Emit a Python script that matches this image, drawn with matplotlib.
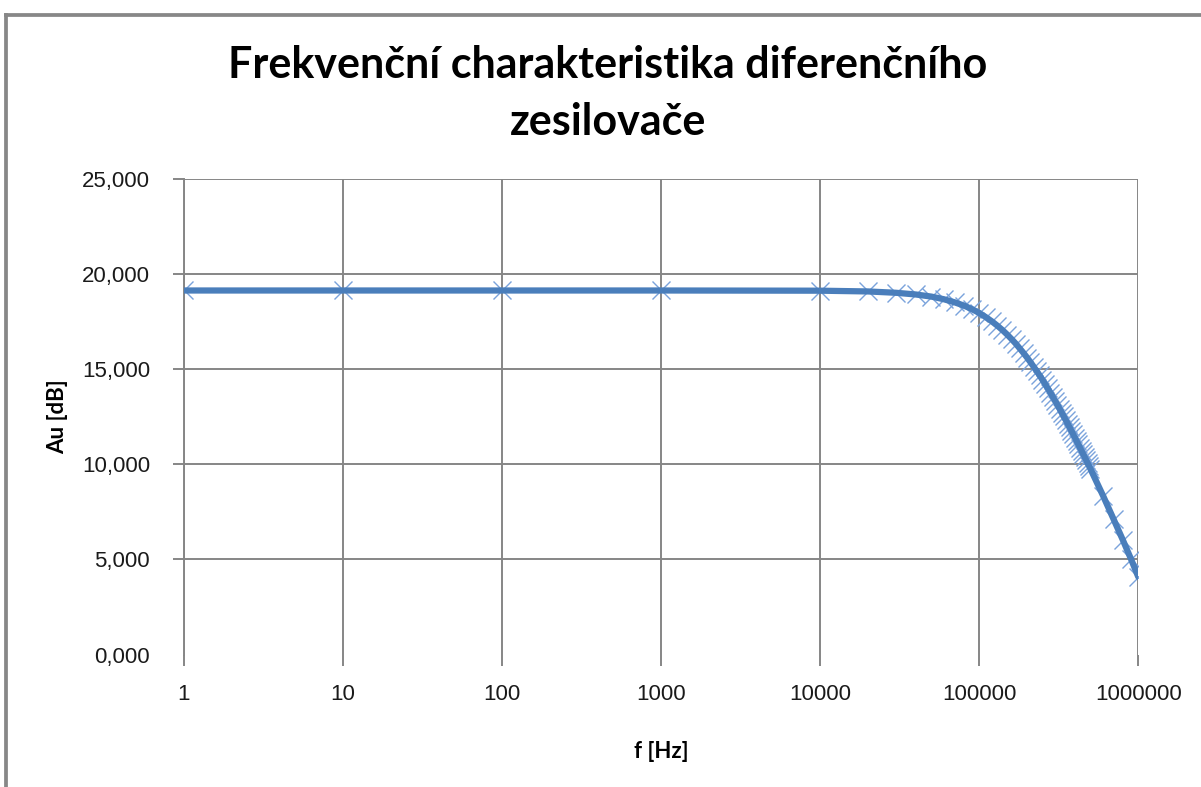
import numpy as np
import matplotlib.pyplot as plt
from matplotlib.lines import Line2D
from matplotlib.ticker import FuncFormatter, FixedLocator, NullLocator

# measured frequency response, f [Hz] vs Au [dB]
f_low = [1, 10, 100, 1000, 10000, 20000, 30000, 40000, 50000, 60000,
         70000, 80000, 90000]
au_low = [19.15, 19.15, 19.15, 19.15, 19.14, 19.10, 19.03, 18.94, 18.83,
          18.69, 18.53, 18.36, 18.17]

f_mid = [100000, 110000, 120000, 130000, 140000, 150000, 160000, 170000,
         180000, 190000, 200000, 210000, 220000, 230000, 240000, 250000,
         260000, 270000, 280000, 290000, 300000]
au_mid = [17.97, 17.75, 17.53, 17.30, 17.07, 16.83, 16.59, 16.35, 16.10,
          15.86, 15.62, 15.38, 15.14, 14.91, 14.68, 14.45, 14.22, 14.00,
          13.78, 13.56, 13.35]

f_high = [310000, 320000, 330000, 340000, 350000, 360000, 370000, 380000,
          390000, 400000, 410000, 420000, 430000, 440000, 450000, 460000,
          470000, 480000, 490000, 500000, 600000, 700000, 800000, 900000,
          1000000]
au_high = [13.14, 12.93, 12.73, 12.53, 12.33, 12.14, 11.95, 11.76, 11.58,
           11.40, 11.22, 11.05, 10.88, 10.71, 10.55, 10.39, 10.23, 10.07,
           9.92, 9.77, 8.36, 7.11, 6.02, 5.02, 4.08]

freq = f_low + f_mid + f_high
gain = au_low + au_mid + au_high

xticks = [1, 10, 100, 1000, 10000, 100000, 1000000]
yticks = [0, 5, 10, 15, 20, 25]

grey = '#868686'

fig = plt.figure(figsize=(12.01, 7.87), dpi=100)
# chart border (only left and top edges are inside the picture)
bx, by = 6.3/1201, 1 - 14.6/787
fig.lines.append(Line2D([bx, bx], [0, by], transform=fig.transFigure,
                        color='#878787', lw=2.7, solid_capstyle='projecting'))
fig.lines.append(Line2D([bx, 1], [by, by], transform=fig.transFigure,
                        color='#878787', lw=2.7, solid_capstyle='projecting'))

ax = fig.add_axes([183.5/1201, (787-654.5)/787, (1138.3-183.5)/1201, (654.5-179.3)/787])
ax.set_xscale('log')
ax.set_xlim(1, 1e6)
ax.set_ylim(0, 25)

ax.plot(freq, gain, ls='none', marker='x', ms=13, mew=1.0, color='#7aa3dc', zorder=3)
ax.plot(freq, gain, color='#4a7ebb', lw=4.5, solid_capstyle='round', zorder=4)

ax.xaxis.set_major_locator(FixedLocator(xticks))
ax.xaxis.set_minor_locator(NullLocator())
ax.xaxis.set_major_formatter(FuncFormatter(lambda v, p: '%d' % round(v)))
ax.yaxis.set_major_locator(FixedLocator(yticks))
ax.yaxis.set_major_formatter(FuncFormatter(lambda v, p: ('%.3f' % v).replace('.', ',')))

ax.grid(True, color=grey, lw=1.4)
ax.set_axisbelow(True)
for s in ['top', 'right', 'bottom']:
    ax.spines[s].set_visible(False)
ax.spines['left'].set_color(grey)
ax.spines['left'].set_linewidth(1.4)
ax.tick_params(axis='both', direction='out', length=8, width=1.4, color=grey,
               labelsize=16, labelcolor='#1a1a1a')
ax.tick_params(axis='x', pad=13)
ax.tick_params(axis='y', pad=16)
# no axis line / grid at y=0
ax.yaxis.get_major_ticks()[0].tick1line.set_visible(False)
ax.yaxis.get_major_ticks()[0].gridline.set_visible(False)
for lab in ax.get_xticklabels() + ax.get_yticklabels():
    lab.set_family('Liberation Sans')

ax.set_xlabel('f [Hz]', fontsize=16, fontweight='bold', labelpad=26, family='Lato')
ax.set_ylabel('Au [dB]', fontsize=16, fontweight='bold', labelpad=10, family='Lato')

fig.text(608/1201, 1 - 65/787, 'Frekvenční charakteristika diferenčního',
         ha='center', va='center', fontsize=31, fontweight='bold', family='Lato')
fig.text(608/1201, 1 - 122/787, 'zesilovače',
         ha='center', va='center', fontsize=31, fontweight='bold', family='Lato')

fig.savefig('out.png', dpi=100)
